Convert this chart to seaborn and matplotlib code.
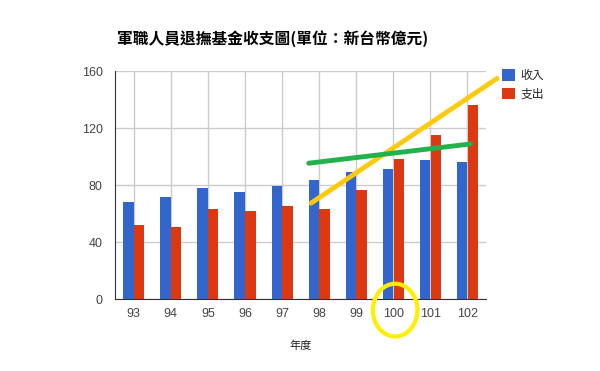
import matplotlib
matplotlib.use("Agg")
import matplotlib.pyplot as plt
from matplotlib.patches import Ellipse
import seaborn as sns
import pandas as pd

# data (unit: 100 million NTD)
years = ["93", "94", "95", "96", "97", "98", "99", "100", "101", "102"]
income = [68, 72, 78, 75.5, 79.5, 84, 89, 91.5, 98, 96.5]
expense = [52, 51, 63.5, 62, 65.5, 63.5, 77, 98.5, 115.5, 136]
series = ["收入", "支出"]

# hand drawn trend strokes, in data coords (x = category index)
yellow_x = [4.78, 9.8]
yellow_y = [67.5, 155]
green_x = [4.72, 9.08]
green_y = [95.5, 109]

df = pd.DataFrame({
    "year": years * 2,
    "value": income + expense,
    "series": [series[0]] * len(years) + [series[1]] * len(years),
})

sns.set_style("white")
plt.rcParams["font.family"] = ["Noto Sans CJK TC", "DejaVu Sans"]

fig = plt.figure(figsize=(6, 3.71), dpi=100)
ax = fig.add_axes([0.192, 0.193, 0.618, 0.615])

sns.barplot(data=df, x="year", y="value", hue="series",
            palette=["#3366CC", "#DC3912"], width=0.58, gap=0.04,
            saturation=1, linewidth=0, ax=ax, zorder=2)

ax.set_xlim(-0.5, 9.5)
ax.set_ylim(0, 160)
ax.set_yticks([0, 40, 80, 120, 160])
ax.grid(True, color="#CCCCCC", linewidth=1, zorder=0)
ax.set_axisbelow(True)
for s in ["top", "right"]:
    ax.spines[s].set_visible(False)
ax.spines["left"].set_color("#333333")
ax.spines["bottom"].set_color("#333333")
ax.tick_params(axis="both", length=0, labelsize=9, labelcolor="#444444")
ax.tick_params(axis="y", pad=9)
ax.tick_params(axis="x", pad=6)
for lab in ax.get_xticklabels() + ax.get_yticklabels():
    lab.set_family(["Liberation Sans", "DejaVu Sans"])
ax.set_ylabel("")
ax.set_xlabel("年度", fontsize=8, style="italic", color="#222222", labelpad=15)

fig.text(0.195, 0.882, "軍職人員退撫基金收支圖(單位：新台幣億元)",
         fontsize=11.3, fontweight="bold", color="#000000")

ax.legend(loc="upper left", bbox_to_anchor=(1.03, 1.03), frameon=False,
          fontsize=8.5, handlelength=1.1, handleheight=1.1,
          handletextpad=0.5, labelspacing=0.45, borderaxespad=0)

ax.plot(yellow_x, yellow_y, color="#FFC90E", linewidth=3.5,
        solid_capstyle="round", clip_on=False, zorder=5)
ax.plot(green_x, green_y, color="#22B14C", linewidth=3.5,
        solid_capstyle="round", clip_on=False, zorder=5)
ax.add_patch(Ellipse((7.05, -7.5), width=1.2, height=37, fill=False,
                     edgecolor="#FFEE00", linewidth=3, clip_on=False,
                     zorder=5))

fig.savefig("out.png", dpi=100)
